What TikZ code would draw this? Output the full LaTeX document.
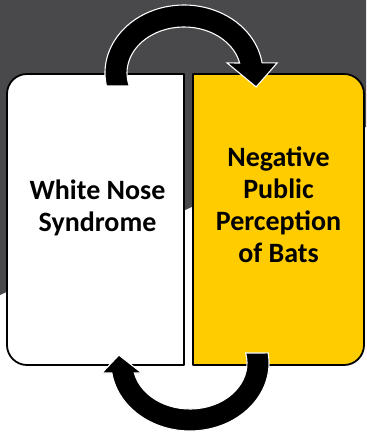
\documentclass[tikz,border=0pt]{standalone}
\usepackage{fontspec}
\setmainfont{Carlito}
\usetikzlibrary{positioning}
\definecolor{slate}{RGB}{73,73,76}
\definecolor{gold}{RGB}{255,204,0}

\begin{document}
\begin{tikzpicture}[x=1pt, y=1pt,
  cell/.style={minimum height=291pt, inner sep=0pt, outer sep=0pt},
  edge/.style={draw=black, line width=1.8pt, line join=round},
  txt/.style={font=\bfseries\fontsize{28}{32}\selectfont, align=center},
  curlarrow/.style={fill=black, draw=white, line width=1.1pt, line join=miter},
  node distance=9pt]
\useasboundingbox (0,0) rectangle (366,435);
\fill[white] (0,0) rectangle (366,435);
\fill[slate] (0,140) -- (0,435) -- (366,435) -- (366,308) -- cycle;
\node[cell, minimum width=177pt] (w) at (95.5,215.5) {};
\node[cell, minimum width=171pt, right=of w] (g) {};
\draw[edge, fill=white] (w.north east) -- ([xshift=20pt]w.north west)
  arc[start angle=90, end angle=180, radius=20pt] -- ([yshift=20pt]w.south west)
  arc[start angle=180, end angle=270, radius=20pt] -- (w.south east) -- cycle;
\draw[edge, fill=gold] (g.north west) -- ([xshift=-20pt]g.north east)
  arc[start angle=90, end angle=0, radius=20pt] -- ([yshift=20pt]g.south east)
  arc[start angle=0, end angle=-90, radius=20pt] -- (g.south west) -- cycle;
\node[txt] (wt) at ([xshift=2pt, yshift=12pt]w.center) {White Nose\\Syndrome};
\node[txt] (gt) at ([yshift=15pt]g.center) {Negative\\Public\\Perception\\of Bats};
\coordinate (top) at (184,362);
\coordinate (bot) at (190,72);
\draw[curlarrow] ([shift={(191:79pt and 68pt)}]top)
  arc[start angle=191, end angle=8.5, x radius=79pt, y radius=68pt]
  -- ++(15,0) -- ++(-21,-24) -- ++(-29,24) -- ([shift={(12.6:57pt and 46pt)}]top)
  arc[start angle=12.6, end angle=196.4, x radius=57pt, y radius=46pt] -- cycle;
\draw[curlarrow] ([shift={(8.5:79pt and 68pt)}]bot)
  arc[start angle=8.5, end angle=-171.5, x radius=79pt, y radius=68pt]
  -- ++(-10,0) -- ++(17,18) -- ++(23,-18) -- ([shift={(-167.4:57pt and 46pt)}]bot)
  arc[start angle=-167.4, end angle=12.6, x radius=57pt, y radius=46pt] -- cycle;
\end{tikzpicture}
\end{document}
